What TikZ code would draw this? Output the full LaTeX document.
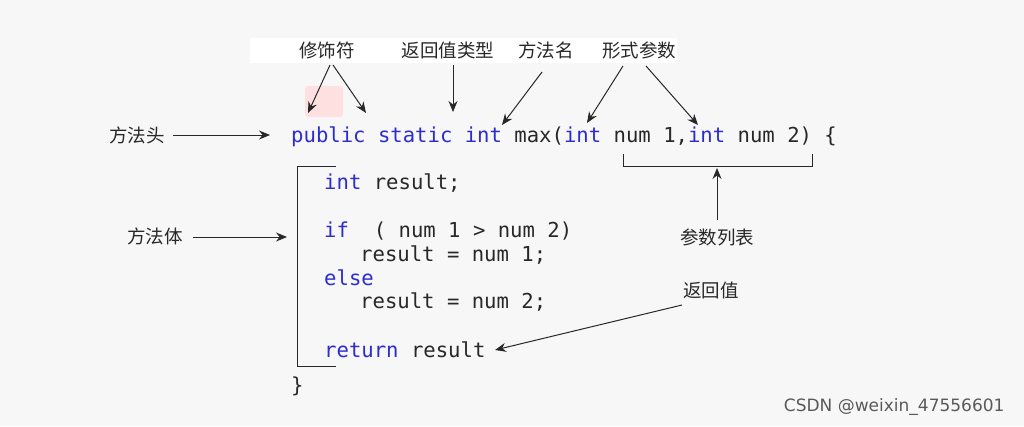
\documentclass[tikz,border=0pt]{standalone}
\usepackage{fontspec}
\setmonofont{DejaVu Sans Mono}
\newfontfamily\cjk{Noto Sans CJK SC}
\usetikzlibrary{arrows.meta}
\definecolor{kw}{RGB}{45,45,205}
\definecolor{tx}{RGB}{40,40,40}
\definecolor{bg}{RGB}{247,247,247}
\begin{document}
\begin{tikzpicture}[x=1pt,y=-1pt,
  lbl/.style={font=\cjk\fontsize{18.5}{20}\selectfont,text=tx,inner sep=0pt},
  code/.style={font=\ttfamily\fontsize{20.6}{22}\selectfont,text=tx,inner sep=0pt,anchor=west},
  arr/.style={draw=tx,line width=1pt,-{Stealth[length=11pt,width=9pt]}},
  brk/.style={draw=tx,line width=0.9pt}]
\fill[bg] (0,0) rectangle (1024,426);
\useasboundingbox (0,0) rectangle (1024,426);
\fill[white] (250,38) rectangle (677,63);
\fill[red!12,rounded corners=3pt] (305,86) rectangle (343,117);
% top labels
\node[lbl] (mod) at (327,50) {修饰符};
\node[lbl] (rt) at (448,50) {返回值类型};
\node[lbl] (mn) at (546,50) {方法名};
\node[lbl] (fp) at (639,50) {形式参数};
\node[lbl] (mh) at (137,135) {方法头};
\node[lbl] (mb) at (155,236) {方法体};
\node[lbl] (pl) at (717,237) {参数列表};
\node[lbl] (rv) at (711,290) {返回值};
% code
\node[code] (l1) at (291,137) {\textcolor{kw}{public static int} max(\textcolor{kw}{int} num 1,\textcolor{kw}{int} num 2) \{};
\node[code] (l2) at (324,183) {\textcolor{kw}{int} result;};
\node[code] (l3) at (324,231) {\textcolor{kw}{if}\ \ ( num 1 > num 2)};
\node[code] (l4) at (360,255) {result = num 1;};
\node[code] (l5) at (324,278) {\textcolor{kw}{else}};
\node[code] (l6) at (360,302) {result = num 2;};
\node[code] (l7) at (324,350) {\textcolor{kw}{return} result};
\node[code] (l8) at (291,386) {\}};
% brackets
\draw[brk] (336,166) -- (297,166) -- (297,366) -- (336,366);
\draw[brk] (623,154) -- (623,166) -- (812,166) -- (812,154);
% arrows
\draw[arr] (330,65) -- (308,113);
\draw[arr] (333,65) -- (366,113);
\draw[arr] (453,65) -- (453,112);
\draw[arr] (542,72) -- (502,125);
\draw[arr] (623,66) -- (587,123);
\draw[arr] (646,66) -- (698,125);
\draw[arr] (mh.east) ++(8,0) coordinate (a1) -- (270,135);
\draw[arr] (mb.east) ++(10,1) coordinate (a2) -- (287,237);
\draw[arr] (717,220) -- (717,168);
\draw[arr] (682,305) -- (495,350);
\node[font=\fontspec{DejaVu Sans}\fontsize{17}{19}\selectfont,text=black!65,anchor=east] (wm) at (1008,407) {CSDN @weixin\_47556601};
\end{tikzpicture}
\end{document}
